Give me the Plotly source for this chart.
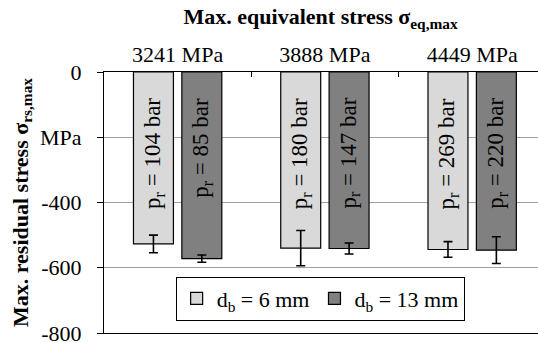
import plotly.graph_objects as go

categories = ["3241 MPa", "3888 MPa", "4449 MPa"]
stress_6mm = [-527, -540, -544]
stress_13mm = [-572, -541, -546]
err_6mm = [27, 54, 24]
err_13mm = [11, 17, 41]
pressure_6mm = ["104", "180", "269"]
pressure_13mm = ["85", "147", "220"]
ytick_vals = [0, -200, -400, -600, -800]
ytick_text = ["0", "MPa", "-400", "-600", "-800"]

FONT = "Liberation Serif"
W, H = 538, 342
ML, MR, MT, MB = 104, 0, 72, 9
XRANGE = [-0.5, 2.447]
BARGAP, GROUPGAP = 0.343, 0.174

fig = go.Figure()
series = [
    ("d<sub>b</sub> = 6 mm", stress_6mm, err_6mm, pressure_6mm, "#D9D9D9"),
    ("d<sub>b</sub> = 13 mm", stress_13mm, err_13mm, pressure_13mm, "#808080"),
]
for name, vals, errs, ps, color in series:
    fig.add_trace(go.Bar(
        x=categories, y=vals, name=name,
        marker=dict(color=color, line=dict(color="black", width=1.2)),
        error_y=dict(type="data", array=errs, color="black", thickness=1.6, width=4.5),
    ))

# pressure labels, written inside each bar near its base (value 0)
cat_px = (W - ML - MR) / (XRANGE[1] - XRANGE[0])
slot_px = cat_px * (1 - BARGAP) / len(series)
for i, (name, vals, errs, ps, color) in enumerate(series):
    for cat, p in zip(categories, ps):
        fig.add_annotation(
            x=cat, y=0, xref="x", yref="y", showarrow=False,
            text=f"p<sub>r</sub> = {p} bar", textangle=-90,
            xanchor="center", yanchor="top",
            xshift=(i - (len(series) - 1) / 2) * slot_px, yshift=-24,
            font=dict(family=FONT, size=23, color="black"),
        )

fig.update_layout(
    width=W, height=H,
    margin=dict(l=ML, r=MR, t=MT, b=MB, autoexpand=False),
    paper_bgcolor="white", plot_bgcolor="white",
    barmode="group", bargap=BARGAP, bargroupgap=GROUPGAP,
    font=dict(family=FONT, size=22, color="black"),
    title=dict(text="<b>Max. equivalent stress σ<sub>eq,max</sub></b>",
               x=0.596, xanchor="center", y=0.975, yanchor="top",
               font=dict(family=FONT, size=22, color="black")),
    showlegend=True,
    legend=dict(orientation="h", x=0.498, xanchor="center", y=0.132, yanchor="middle",
                bgcolor="white", bordercolor="black", borderwidth=1,
                font=dict(family=FONT, size=22, color="black")),
    xaxis=dict(type="category", side="top", range=XRANGE, automargin=False,
               showline=True, linecolor="black", linewidth=1.2, mirror=True,
               ticks="inside", tickson="boundaries", ticklen=5, tickcolor="black",
               showgrid=False, tickfont=dict(family=FONT, size=22, color="black")),
    yaxis=dict(range=[-800, 0], tickvals=ytick_vals, ticktext=ytick_text, automargin=False,
               showline=True, linecolor="black", linewidth=1.2,
               ticks="outside", ticklen=6, tickcolor="black",
               ticklabelstandoff=11, ticklabeloverflow="allow",
               showgrid=True, gridcolor="#A0A0A0", gridwidth=1.2, zeroline=False,
               tickfont=dict(family=FONT, size=22, color="black"),
               title=dict(text="<b>Max. residual stress σ<sub>rs,max</sub></b>",
                          font=dict(family=FONT, size=22, color="black"), standoff=5)),
)

fig.write_html("out.html", config={"displayModeBar": False},
               post_script="document.body.style.margin='0';")
